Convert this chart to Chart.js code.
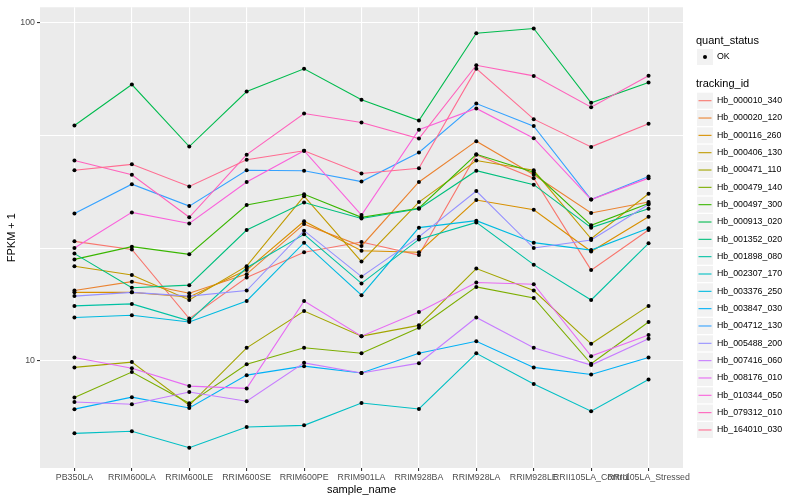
<!DOCTYPE html>
<html>
<head>
<meta charset="utf-8">
<script src="https://cdn.jsdelivr.net/npm/chart.js@4.4.1/dist/chart.umd.min.js"></script>
<style>
  html, body { margin: 0; background: #fff; }
</style>
</head>
<body>
<canvas id="chart" width="800" height="500"></canvas>
<script>
const samples = ["PB350LA", "RRIM600LA", "RRIM600LE", "RRIM600SE", "RRIM600PE", "RRIM901LA",
                 "RRIM928BA", "RRIM928LA", "RRIM928LE", "RRII105LA_Control", "RRII105LA_Stressed"];

const trackingIds = ["Hb_000010_340", "Hb_000020_120", "Hb_000116_260", "Hb_000406_130", "Hb_000471_110",
                     "Hb_000479_140", "Hb_000497_300", "Hb_000913_020", "Hb_001352_020", "Hb_001898_080",
                     "Hb_002307_170", "Hb_003376_250", "Hb_003847_030", "Hb_004712_130", "Hb_005488_200",
                     "Hb_007416_060", "Hb_008176_010", "Hb_010344_050", "Hb_079312_010", "Hb_164010_030"];

const colors = ["#F8766D", "#EA8331", "#D89000", "#C09B00", "#A3A500", "#7CAE00", "#39B600", "#00BB4E",
                "#00BF7D", "#00C1A3", "#00BFC4", "#00BAE0", "#00B0F6", "#35A2FF", "#9590FF", "#C77CFF",
                "#E76BF3", "#FA62DB", "#FF62BC", "#FF6C91"];

// FPKM + 1, one value per sample
const hb_000010_340 = [22.5, 21.3, 13.3, 17.6, 20.9, 22.4, 20.5, 40.6, 34.6, 18.5, 24.3];
const hb_000020_120 = [16.1, 17.1, 15.8, 18.0, 25.3, 21.8, 33.7, 44.5, 35.4, 27.3, 29.4];
const hb_000116_260 = [15.9, 15.9, 15.4, 18.5, 25.8, 21.1, 20.9, 29.8, 27.9, 21.0, 26.6];
const hb_000406_130 = [19.0, 17.9, 15.1, 19.0, 30.6, 19.6, 29.4, 39.0, 36.5, 22.9, 31.1];
const hb_000471_110 = [9.54, 9.89, 7.37, 10.9, 14.0, 11.8, 12.7, 18.7, 16.1, 11.2, 14.5];
const hb_000479_140 = [7.77, 9.24, 7.47, 9.75, 10.9, 10.5, 12.5, 16.5, 15.3, 9.78, 13.0];
const hb_000497_300 = [19.9, 21.7, 20.6, 28.8, 31.0, 26.5, 28.2, 40.7, 36.0, 25.1, 29.1];
const hb_000913_020 = [49.5, 65.4, 42.9, 62.4, 72.8, 59.0, 51.2, 92.8, 95.8, 57.8, 66.3];
const hb_001352_020 = [20.7, 16.4, 16.7, 24.3, 29.3, 26.3, 28.1, 36.4, 33.1, 24.7, 28.1];
const hb_001898_080 = [14.5, 14.7, 13.1, 18.8, 23.6, 16.9, 22.8, 25.6, 19.2, 15.1, 22.2];
const hb_002307_170 = [6.09, 6.18, 5.52, 6.36, 6.43, 7.49, 7.19, 10.5, 8.52, 7.08, 8.79];
const hb_003376_250 = [13.4, 13.6, 13.0, 15.0, 22.3, 15.6, 24.7, 25.9, 22.3, 21.2, 24.6];
const hb_003847_030 = [7.18, 7.79, 7.24, 9.05, 9.62, 9.18, 10.5, 11.4, 9.54, 9.09, 10.2];
const hb_004712_130 = [27.2, 33.2, 28.6, 36.5, 36.4, 33.8, 41.2, 57.5, 49.3, 29.9, 35.0];
const hb_005488_200 = [15.5, 15.9, 15.5, 16.1, 24.2, 17.7, 23.2, 31.7, 21.5, 22.7, 28.9];
const hb_007416_060 = [7.54, 7.42, 8.07, 7.58, 9.84, 9.18, 9.82, 13.4, 10.9, 9.69, 11.6];
const hb_008176_010 = [10.2, 9.49, 8.40, 8.27, 15.0, 11.8, 13.9, 17.0, 16.8, 10.3, 11.9];
const hb_010344_050 = [21.5, 27.4, 25.4, 33.7, 41.7, 26.9, 48.1, 55.6, 45.4, 29.9, 34.6];
const hb_079312_010 = [39.0, 35.4, 26.5, 40.6, 53.7, 50.5, 45.3, 74.6, 69.4, 56.1, 69.5];
const hb_164010_030 = [36.5, 38.0, 32.7, 39.2, 41.7, 35.7, 37.0, 72.9, 51.7, 42.8, 50.1];

const series = [hb_000010_340, hb_000020_120, hb_000116_260, hb_000406_130, hb_000471_110,
                hb_000479_140, hb_000497_300, hb_000913_020, hb_001352_020, hb_001898_080,
                hb_002307_170, hb_003376_250, hb_003847_030, hb_004712_130, hb_005488_200,
                hb_007416_060, hb_008176_010, hb_010344_050, hb_079312_010, hb_164010_030];

const yTicks = [10, 100];
const yMinor = [Math.pow(10, 4 / 3), Math.pow(10, 5 / 3)];
const FONT = '"Liberation Sans", Arial, sans-serif';

const lineSets = series.map((s, k) => ({
    data: s.map((v, i) => ({x: i, y: v})),
    borderColor: colors[k],
    borderWidth: 1.1,
    pointRadius: 0,
    fill: false,
    tension: 0,
    order: series.length - k
}));

const allPoints = [];
series.forEach(s => s.forEach((v, i) => allPoints.push({x: i, y: v})));

const panelBg = {
    id: "panelBg",
    beforeDraw(chart){
        const {ctx, chartArea: a} = chart;
        ctx.save();
        ctx.fillStyle = "#fff";
        ctx.fillRect(0, 0, chart.width, chart.height);
        ctx.fillStyle = "#EBEBEB";
        ctx.fillRect(a.left, a.top, a.right - a.left, a.bottom - a.top);
        ctx.restore();
    },
    beforeDatasetsDraw(chart){
        // the two unlabelled horizontal grid lines between 10 and 100
        const {ctx, chartArea: a, scales} = chart;
        ctx.save();
        ctx.strokeStyle = "#fff";
        ctx.lineWidth = 1;
        yMinor.forEach(v => {
            const y = Math.round(scales.y.getPixelForValue(v)) + 0.5;
            ctx.beginPath();
            ctx.moveTo(a.left, y);
            ctx.lineTo(a.right, y);
            ctx.stroke();
        });
        ctx.restore();
    }
};

const ggLegend = {
    id: "ggLegend",
    afterDraw(chart){
        const ctx = chart.ctx;
        const x0 = 697;
        ctx.save();
        ctx.textBaseline = "middle";
        ctx.fillStyle = "#000";
        ctx.font = "11px " + FONT;
        ctx.fillText("quant_status", x0 - 1, 41);
        ctx.fillStyle = "#F2F2F2";
        ctx.fillRect(x0, 49, 16, 16);
        ctx.fillStyle = "#000";
        ctx.beginPath();
        ctx.arc(x0 + 8, 57, 2, 0, Math.PI * 2);
        ctx.fill();
        ctx.font = "8.8px " + FONT;
        ctx.fillText("OK", x0 + 20, 57);

        ctx.font = "11px " + FONT;
        ctx.fillText("tracking_id", x0 - 1, 84);
        ctx.font = "8.8px " + FONT;
        trackingIds.forEach((id, k) => {
            const cy = 100.7 + k * 17.33;
            ctx.fillStyle = "#F2F2F2";
            ctx.fillRect(x0, cy - 8, 16, 16);
            ctx.strokeStyle = colors[k];
            ctx.lineWidth = 1.1;
            ctx.beginPath();
            ctx.moveTo(x0 + 1.5, cy);
            ctx.lineTo(x0 + 14.5, cy);
            ctx.stroke();
            ctx.fillStyle = "#000";
            ctx.fillText(id, x0 + 20, cy);
        });
        ctx.restore();
    }
};

new Chart(document.getElementById("chart"), {
    type: "line",
    data: {
        datasets: [
            ...lineSets,
            {
                data: allPoints,
                showLine: false,
                pointRadius: 2,
                pointBackgroundColor: "#000",
                pointBorderWidth: 0,
                order: -1
            }
        ]
    },
    options: {
        responsive: false,
        animation: false,
        layout: {padding: {top: 5, right: 117, left: 0, bottom: 0}},
        plugins: {legend: {display: false}, tooltip: {enabled: false}},
        scales: {
            x: {
                type: "linear",
                min: -0.6,
                max: samples.length - 0.4,
                afterBuildTicks: s => { s.ticks = samples.map((_, i) => ({value: i})); },
                afterFit: s => { s.height = 32; },
                ticks: {
                    autoSkip: false, maxRotation: 0, minRotation: 0, padding: 1,
                    color: "#4D4D4D", font: {family: FONT, size: 8.8},
                    callback: v => samples[v]
                },
                grid: {color: "#fff", lineWidth: 1.1, tickLength: 3, tickColor: "#333"},
                border: {display: false},
                title: {display: true, text: "sample_name", color: "#000",
                        font: {family: FONT, size: 11}, padding: {top: 0, bottom: 3}}
            },
            y: {
                type: "logarithmic",
                min: 4.81,
                max: 110.7,
                afterBuildTicks: s => { s.ticks = yTicks.map(v => ({value: v})); },
                afterFit: s => { s.width = 40; },
                ticks: {
                    autoSkip: false, padding: 2, color: "#4D4D4D", font: {family: FONT, size: 8.8},
                    callback: v => String(v)
                },
                grid: {color: "#fff", lineWidth: 1.1, tickLength: 3, tickColor: "#333"},
                border: {display: false},
                title: {display: true, text: "FPKM + 1", color: "#000",
                        font: {family: FONT, size: 11}, padding: {top: 5, bottom: 2}}
            }
        }
    },
    plugins: [panelBg, ggLegend]
});
</script>
</body>
</html>
